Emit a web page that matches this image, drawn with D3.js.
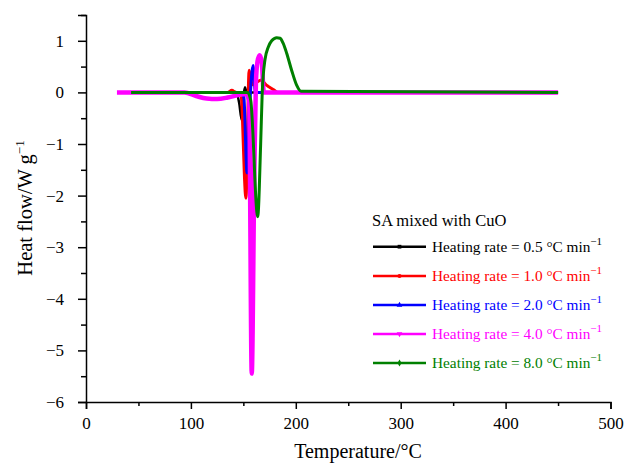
<!DOCTYPE html>
<html><head><meta charset="utf-8">
<script src="https://cdn.jsdelivr.net/npm/d3@7"></script>
<style>
body{margin:0;background:#fff;}
text{font-family:"Liberation Serif","Times New Roman",serif;}
</style></head>
<body><svg id="c" width="627" height="463"></svg>
<script>
// ---- data ----
const seriesNames = ["0.5", "1.0", "2.0", "4.0", "8.0"];
const seriesColors = ["#000000", "#ff0000", "#0000ff", "#ff00ff", "#008000"];
const tBlack = [45, 140, 143, 146, 148.5, 150, 151.5, 153, 156, 450];
const hBlack = [0, 0, 0.01, -0.2, -0.54, -0.1, 0.1, 0.01, 0, 0];
const tRed = [40, 135, 139, 143, 147.5, 152.5, 155.5, 158.5, 163, 167, 172, 175, 179, 183, 450];
const hRed = [0, 0, 0.04, 0, 0, -2.05, 0.43, 0.15, 0.2, 0.24, 0.14, 0.1, 0.05, 0, 0];
const tBlue = [40, 148, 150.5, 153.5, 156, 159.2, 161.5, 450];
const hBlue = [0, 0, -0.1, -1.56, -0.3, 0.52, 0, 0];
const tMagenta = [29.5, 94, 105, 115, 125, 135, 145, 152, 155.5, 158, 160.5, 162, 163.5, 165.5, 167.5, 169.5, 450];
const hMagenta = [0, 0, -0.07, -0.12, -0.13, -0.1, -0.05, -0.03, -0.15, -5.45, -1.5, 0.2, 0.6, 0.72, 0.6, 0, 0];
const tGreen = [43, 150, 154, 157, 163.7, 166.5, 168, 170.6, 173.8, 177, 181.8, 185, 188, 191.3, 196, 200.8, 205, 450];
const hGreen = [0, 0, 0, -0.15, -2.41, -1.0, 0, 0.63, 0.88, 1.0, 1.06, 1.05, 0.95, 0.76, 0.43, 0.14, 0.02, 0];
const xTicks = [0, 100, 200, 300, 400, 500];
const yTicks = [-6, -5, -4, -3, -2, -1, 0, 1];

const tArr = [tBlack, tRed, tBlue, tMagenta, tGreen];
const hArr = [hBlack, hRed, hBlue, hMagenta, hGreen];
const widths = [2.5, 3, 3, 4.5, 3];

const svg = d3.select("#c");
const x = d3.scaleLinear().domain([0, 500]).range([86, 610.5]);
const y = d3.scaleLinear().domain([-6, 1.5]).range([402, 15]);

// axes
svg.append("g").attr("transform", `translate(0,${y(-6)})`)
  .call(d3.axisBottom(x).tickValues(xTicks).tickSize(7).tickPadding(8).tickFormat(d3.format("d")));
svg.append("g").attr("transform", `translate(0,${y(-6)})`)
  .call(d3.axisBottom(x).tickValues(d3.range(50, 500, 100)).tickSize(4).tickFormat(""))
  .select(".domain").remove();
svg.append("g").attr("transform", `translate(${x(0)},0)`)
  .call(d3.axisLeft(y).tickValues(yTicks).tickSize(8).tickPadding(14).tickFormat(d => d < 0 ? "\u2212" + Math.abs(d) : d));
svg.append("g").attr("transform", `translate(${x(0)},0)`)
  .call(d3.axisLeft(y).tickValues(d3.range(-5.5, 1.6, 1)).tickSize(5).tickFormat(""))
  .select(".domain").remove();
svg.selectAll(".domain").attr("stroke", "#000").attr("stroke-width", 1.5);
svg.selectAll(".tick line").attr("stroke", "#000").attr("stroke-width", 1.5);
svg.selectAll(".tick text").attr("font-size", 17).attr("font-family", "Liberation Serif").attr("fill", "#000");

// lines
const line = d3.line().x(d => x(d[0])).y(d => y(d[1])).curve(d3.curveMonotoneX);
tArr.forEach((ts, i) => {
  const pts = ts.map((t, k) => [t, hArr[i][k]]);
  svg.append("path").attr("d", line(pts)).attr("fill", "none")
    .attr("stroke", seriesColors[i]).attr("stroke-width", widths[i])
    .attr("stroke-linejoin", "round");
});

// axis titles
svg.append("text").attr("x", 358).attr("y", 458).attr("text-anchor", "middle")
  .attr("font-size", 20).text("Temperature/°C");
const yt = svg.append("text").attr("transform", "translate(32,208) rotate(-90)")
  .attr("text-anchor", "middle").attr("font-size", 20.5);
yt.append("tspan").text("Heat flow/W g");
yt.append("tspan").attr("font-size", 13).attr("dy", -8).text("\u22121");

// legend
svg.append("text").attr("x", 372).attr("y", 226).attr("font-size", 16.5).text("SA mixed with CuO");
const rowY = [246.7, 276, 305, 334, 363];
const markerTypes = [d3.symbolSquare, d3.symbolCircle, d3.symbolTriangle, d3.symbolTriangle, d3.symbolDiamond];
seriesNames.forEach((n, i) => {
  const g = svg.append("g");
  g.append("line").attr("x1", 373).attr("x2", 426).attr("y1", rowY[i]).attr("y2", rowY[i])
    .attr("stroke", seriesColors[i]).attr("stroke-width", 2.5);
  g.append("path").attr("d", d3.symbol().type(markerTypes[i]).size(14)())
    .attr("transform", `translate(399.5,${rowY[i]})` + (i === 3 ? " rotate(180)" : ""))
    .attr("fill", seriesColors[i]);
  const t = g.append("text").attr("x", 432).attr("y", rowY[i] + 5).attr("font-size", 15.3)
    .attr("fill", seriesColors[i]);
  t.append("tspan").text(`Heating rate = ${n} °C min`);
  t.append("tspan").attr("font-size", 11).attr("dy", -7).text("\u22121");
});
</script></body></html>
